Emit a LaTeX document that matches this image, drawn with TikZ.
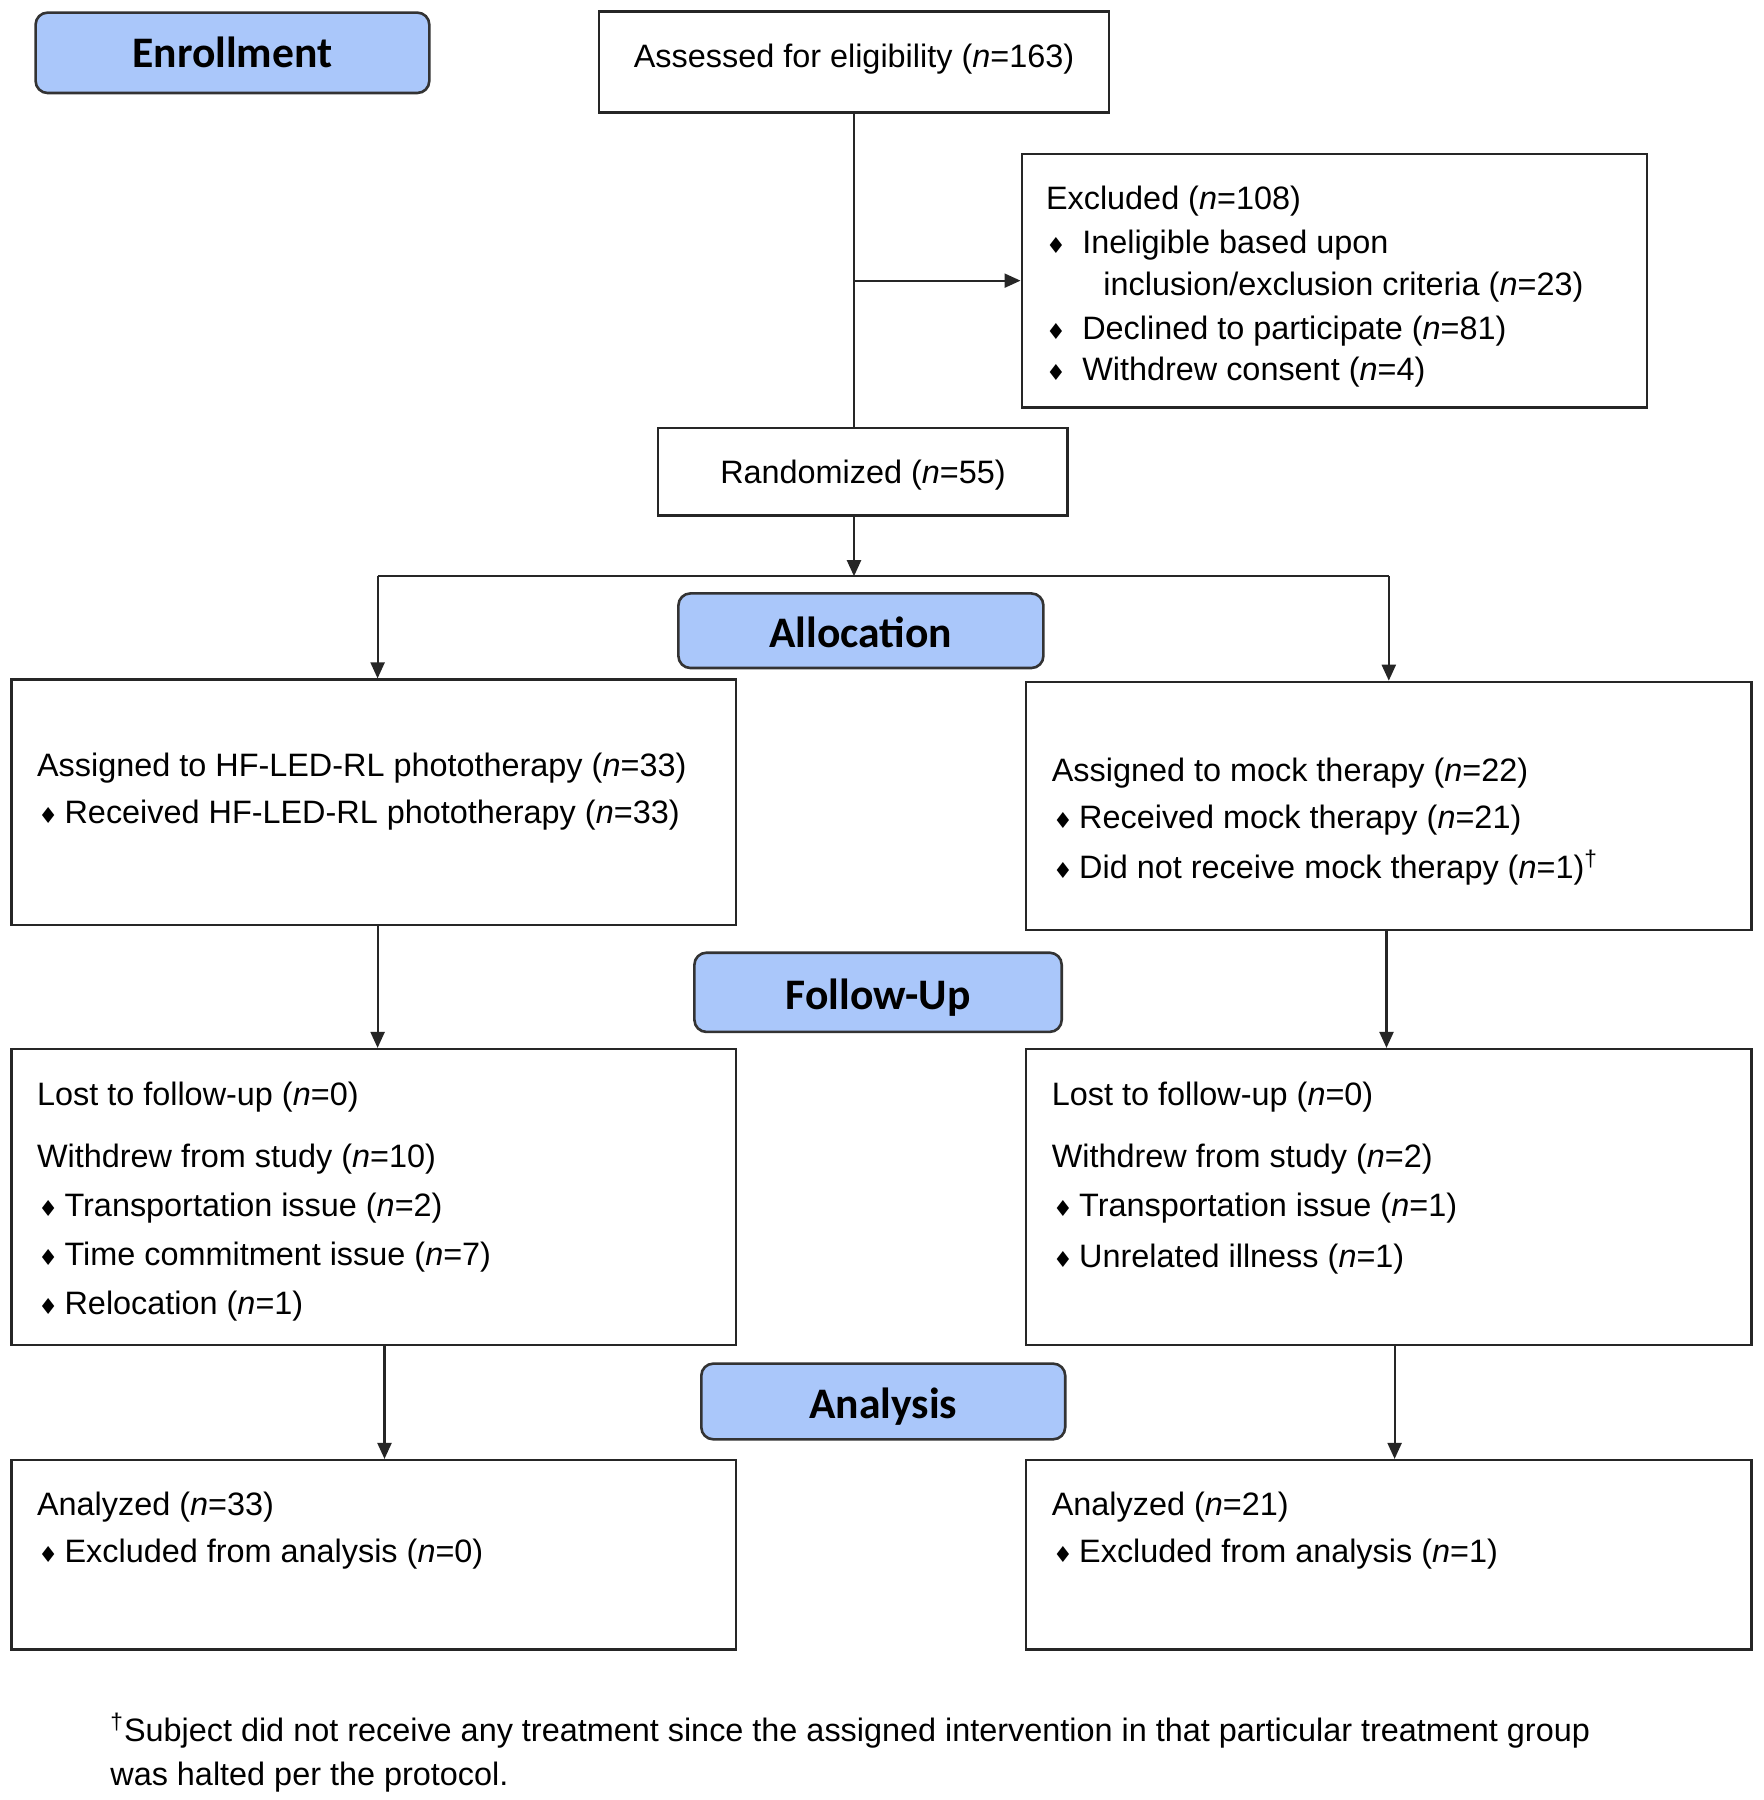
\documentclass[tikz,border=0pt]{standalone}
\usepackage{fontspec}
\setmainfont{Liberation Sans}
\newfontfamily\hdfont{Carlito}
\newfontfamily\symfont{DejaVu Sans}
\usetikzlibrary{arrows.meta,fit,calc}
\definecolor{hdblue}{RGB}{170,199,250}
\newcommand{\bul}{{\symfont\fontsize{11}{11}\selectfont ♦}}
\newcommand{\nn}{\textit{n}}
\newcommand{\bi}{\makebox[11.6pt][l]{\hspace{-1.5pt}\bul}}
\newcommand{\bw}{\makebox[16.6pt][l]{\hspace{-1.5pt}\bul}}
\begin{document}
\begin{tikzpicture}[x=0.5pt,y=-0.5pt,
  box/.style={draw=black!85, line width=1.1pt, inner sep=0pt},
  hd/.style={draw=black!80, line width=1.3pt, fill=hdblue, rounded corners=6pt, inner sep=0pt},
  hdtxt/.style={inner sep=0pt, anchor=base, yshift=-8.5pt, font=\hdfont\bfseries\fontsize{21.8}{24}\selectfont},
  txt/.style={anchor=west, inner sep=0pt, yshift=-3.6pt, text height=0.72em, text depth=0.24em, font=\fontsize{16.2}{19}\selectfont},
  ctxt/.style={txt, anchor=center},
  arr/.style={line width=1.1pt, draw=black!85, -{Triangle[length=8pt,width=7pt]}},
  ln/.style={line width=1.1pt, draw=black!85}]
\useasboundingbox (0,0) rectangle (1763,1800);
\fill[white] (0,0) rectangle (1763,1800);

% headers
\node[hd, fit={(35.6,12.6)(429.3,93)}] (henr) {};
\node[hdtxt, yshift=1pt] (henrt) at (henr.center) {Enrollment};
\node[hd, fit={(678.4,593.4)(1043.4,668)}] (halloc) {};
\node[hdtxt] (halloct) at (halloc.center) {Allocation};
\node[hd, fit={(694.4,952.7)(1061.7,1031.9)}] (hfol) {};
\node[hdtxt] (hfolt) at (hfol.center) {Follow-Up};
\node[hd, fit={(701.3,1363.6)(1065.2,1439.3)}] (hana) {};
\node[hdtxt] (hanat) at (hana.center) {Analysis};

% boxes
\node[box, fit={(599,11.5)(1109,112.5)}] (assess) {};
\node[ctxt] (assesst) at (854,55) {Assessed for eligibility (\nn=163)};
\node[box, fit={(1021.6,153.8)(1647,407.5)}] (excl) {};
\node[box, fit={(657.7,428)(1067.5,515.4)}] (rand) {};
\node[ctxt] (randt) at (863,471.7) {Randomized (\nn=55)};
\node[box, fit={(11.5,679.5)(735.7,925)}] (lalloc) {};
\node[box, fit={(1026,681.8)(1751.5,929.7)}] (ralloc) {};
\node[box, fit={(11.5,1049)(735.7,1345.2)}] (lfol) {};
\node[box, fit={(1026,1049)(1751.5,1345.2)}] (rfol) {};
\node[box, fit={(11.5,1460)(735.7,1649.4)}] (lana) {};
\node[box, fit={(1026,1460)(1751.5,1649.4)}] (rana) {};

% excluded text
\node[txt] (e1) at (1045.6,197.4) {Excluded (\nn=108)};
\node[txt] (e2) at (1048.7,241) {\bw Ineligible based upon};
\node[txt] (e3) at (1103,283.5) {inclusion/exclusion criteria (\nn=23)};
\node[txt] (e4) at (1048.7,327) {\bw Declined to participate (\nn=81)};
\node[txt] (e5) at (1048.7,368.4) {\bw Withdrew consent (\nn=4)};

% allocation text
\node[txt] (la1) at (36.7,764.4) {Assigned to HF-LED-RL phototherapy (\nn=33)};
\node[txt] (la2) at (41,811.5) {\bi Received HF-LED-RL phototherapy (\nn=33)};
\node[txt] (ra1) at (1051.4,769) {Assigned to mock therapy (\nn=22)};
\node[txt] (ra2) at (1055.6,816) {\bi Received mock therapy (\nn=21)};
\node[txt] (ra3) at (1055.6,866.6) {\bi Did not receive mock therapy (\nn=1)\textsuperscript{†}};

% follow-up text
\node[txt] (lf1) at (36.7,1093.9) {Lost to follow-up (\nn=0)};
\node[txt] (lf2) at (36.7,1155.8) {Withdrew from study (\nn=10)};
\node[txt] (lf3) at (41,1204) {\bi Transportation issue (\nn=2)};
\node[txt] (lf4) at (41,1253.4) {\bi Time commitment issue (\nn=7)};
\node[txt] (lf5) at (41,1302.8) {\bi Relocation (\nn=1)};
\node[txt] (rf1) at (1051.4,1093.9) {Lost to follow-up (\nn=0)};
\node[txt] (rf2) at (1051.4,1155.8) {Withdrew from study (\nn=2)};
\node[txt] (rf3) at (1055.6,1204) {\bi Transportation issue (\nn=1)};
\node[txt] (rf4) at (1055.6,1255.7) {\bi Unrelated illness (\nn=1)};

% analysis text
\node[txt] (ln1) at (36.7,1503.6) {Analyzed (\nn=33)};
\node[txt] (ln2) at (41,1550.7) {\bi Excluded from analysis (\nn=0)};
\node[txt] (rn1) at (1051.4,1503.6) {Analyzed (\nn=21)};
\node[txt] (rn2) at (1055.6,1550.7) {\bi Excluded from analysis (\nn=1)};

% footnote
\node[txt] (fn1) at (110,1729.7) {\textsuperscript{†}Subject did not receive any treatment since the assigned intervention in that particular treatment group};
\node[txt] (fn2) at (110,1773.4) {was halted per the protocol.};

% connectors
\coordinate (trunkx) at (854,0);
\draw[ln] (trunkx |- assess.south) -- (trunkx |- rand.north);
\coordinate (br1) at (trunkx |- excl.west);
\draw[arr] (br1) -- (excl.west);
\coordinate (split) at (854,576.2);
\draw[arr] (split |- rand.south) -- (split);
\coordinate (lsp) at (377.6,576.2);
\coordinate (rsp) at (1388.8,576.2);
\draw[ln] (lsp) -- (rsp);
\draw[arr] (lsp) -- (lsp |- lalloc.north);
\draw[arr] (rsp) -- (rsp |- ralloc.north);
\coordinate (lx1) at (377.6,925);
\draw[arr] (lx1) -- (lx1 |- lfol.north);
\coordinate (rx1) at (1386.5,929.7);
\draw[arr] (rx1) -- (rx1 |- rfol.north);
\coordinate (lx2) at (384.5,1345.2);
\draw[arr] (lx2) -- (lx2 |- lana.north);
\coordinate (rx2) at (1394.6,1345.2);
\draw[arr] (rx2) -- (rx2 |- rana.north);
\end{tikzpicture}
\end{document}
